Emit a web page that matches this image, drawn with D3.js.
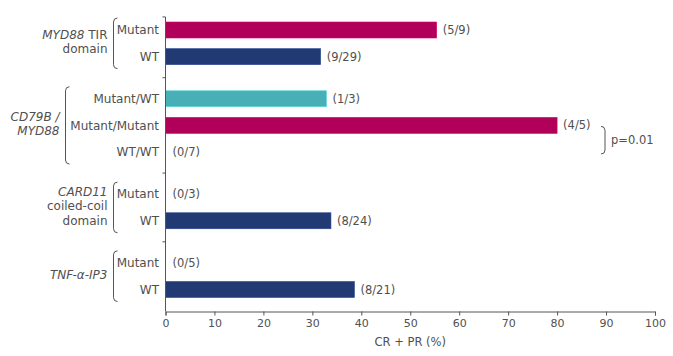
<!DOCTYPE html>
<html><head><meta charset="utf-8">
<script src="https://cdn.jsdelivr.net/npm/d3@7"></script>
<style>
body{margin:0;background:#fff;}
text{font-family:"DejaVu Sans",sans-serif;fill:#505050;}
</style></head>
<body><svg id="c" width="673" height="356"></svg>
<script>
// ---- data ----
const groupNames = ["MYD88 TIR domain", "CD79B / MYD88", "CARD11 coiled-coil domain", "TNF-α-IP3"];
const groupLabelLines = [
  [[["MYD88", true], [" TIR", false]], [["domain", false]]],
  [[["CD79B /", true]], [["MYD88", true]]],
  [[["CARD11", true]], [["coiled-coil", false]], [["domain", false]]],
  [[["TNF-α-IP3", true]]]
];
const rowLabels = ["Mutant", "WT", "Mutant/WT", "Mutant/Mutant", "WT/WT", "Mutant", "WT", "Mutant", "WT"];
const rowGroup = [0, 0, 1, 1, 1, 2, 2, 3, 3];
const rowStatus = ["mutant", "wt", "mixed", "mutant", "wt", "mutant", "wt", "mutant", "wt"];
const values = [55.4, 31.7, 32.9, 80, 0, 0, 33.8, 0, 38.6];
const ratioLabels = ["(5/9)", "(9/29)", "(1/3)", "(4/5)", "(0/7)", "(0/3)", "(8/24)", "(0/5)", "(8/21)"];
const xTicks = [0, 10, 20, 30, 40, 50, 60, 70, 80, 90, 100];
const xTitle = "CR + PR (%)";
const pText = "p=0.01";
const pRows = [3, 4];

const statusColor = {mutant: "#b0005a", wt: "#213a74", mixed: "#49afb6"};

// ---- layout ----
const svg = d3.select("#c");
const x = d3.scaleLinear().domain([0, 100]).range([165.5, 655]);
const gapFrac = 0.58;
const slot = rowLabels.map((d, i) => i + rowGroup[i] * gapFrac);
const lastSlot = slot[slot.length - 1];
const y = d3.scaleLinear().domain([0, lastSlot]).range([30, 289.5]);
const barH = 16;
const axisY = 311.5;
const lineCol = "#555";

// bars
svg.selectAll("rect.bar").data(values).join("rect")
  .attr("class", "bar")
  .attr("x", x(0))
  .attr("y", (d, i) => y(slot[i]) - barH / 2)
  .attr("width", d => x(d) - x(0))
  .attr("height", barH)
  .attr("fill", (d, i) => statusColor[rowStatus[i]])
  .attr("stroke", (d, i) => d3.color(statusColor[rowStatus[i]]).brighter(0.6))
  .attr("stroke-width", 0.6)
  .attr("display", d => d > 0 ? null : "none");

// ratio labels
svg.selectAll("text.ratio").data(ratioLabels).join("text")
  .attr("class", "ratio")
  .attr("x", (d, i) => x(values[i]) + (values[i] > 0 ? 6 : 7))
  .attr("y", (d, i) => y(slot[i]))
  .attr("dy", "0.35em")
  .attr("font-size", 11.5)
  .text(d => d);

// row labels
svg.selectAll("text.row").data(rowLabels).join("text")
  .attr("class", "row")
  .attr("x", 159)
  .attr("y", (d, i) => y(slot[i]))
  .attr("dy", "0.35em")
  .attr("text-anchor", "end")
  .attr("font-size", 12)
  .text(d => d);

// y axis line + group ticks
const topY = y(-0.49);
svg.append("line").attr("x1", x(0)).attr("x2", x(0)).attr("y1", topY).attr("y2", axisY)
  .attr("stroke", lineCol).attr("stroke-width", 1);
const boundaries = [topY];
for (let i = 1; i < slot.length; i++) if (rowGroup[i] !== rowGroup[i - 1]) boundaries.push((y(slot[i]) + y(slot[i - 1])) / 2);
svg.selectAll("line.gt").data(boundaries).join("line").attr("class", "gt")
  .attr("x1", x(0) - 3).attr("x2", x(0)).attr("y1", d => d).attr("y2", d => d)
  .attr("stroke", lineCol);

// x axis
const xAxis = d3.axisBottom(x).tickValues(xTicks).tickSize(4).tickPadding(4).tickFormat(d3.format("d"));
const gx = svg.append("g").attr("transform", `translate(0,${axisY})`).call(xAxis);
gx.select(".domain").attr("stroke", lineCol);
gx.selectAll(".tick line").attr("stroke", lineCol);
gx.selectAll(".tick text").attr("font-size", 11).attr("fill", "#505050").style("font-family", '"DejaVu Sans",sans-serif');
svg.append("text").attr("x", (x(0) + x(100)) / 2).attr("y", 346).attr("text-anchor", "middle")
  .attr("font-size", 11.5).text(xTitle);

// group braces and labels
function bracePath(xb, y1, y2, dir) {
  const r = 4, w = 4 * dir;
  return `M${xb + w},${y1} Q${xb},${y1} ${xb},${y1 + r} L${xb},${y2 - r} Q${xb},${y2} ${xb + w},${y2}`;
}
groupNames.forEach((g, k) => {
  const idx = rowGroup.map((gg, i) => gg === k ? i : -1).filter(i => i >= 0);
  const yTop = y(slot[idx[0]]) - 12, yBot = y(slot[idx[idx.length - 1]]) + 12;
  const braceX = k === 1 ? 65.5 : 113.5;
  svg.append("path").attr("d", bracePath(braceX, yTop, yBot, 1))
    .attr("fill", "none").attr("stroke", lineCol).attr("stroke-width", 1);
  const lines = groupLabelLines[k];
  const lh = 14.5;
  const cy = (yTop + yBot) / 2 - 1.5;
  lines.forEach((segs, li) => {
    const ly = cy + (li - (lines.length - 1) / 2) * lh;
    const t = svg.append("text").attr("text-anchor", "end").attr("font-size", 12)
      .attr("x", braceX - 6).attr("y", ly).attr("dy", "0.35em");
    segs.forEach(s => t.append("tspan").text(s[0]).attr("font-style", s[1] ? "italic" : "normal"));
  });
});

// p-value bracket
const py1 = y(slot[pRows[0]]) + 1, py2 = y(slot[pRows[1]]) + 2;
svg.append("path").attr("d", bracePath(605, py1, py2, -1))
  .attr("fill", "none").attr("stroke", lineCol).attr("stroke-width", 1);
svg.append("text").attr("x", 611).attr("y", (py1 + py2) / 2).attr("dy", "0.35em")
  .attr("font-size", 11.5).text(pText);
</script></body></html>
